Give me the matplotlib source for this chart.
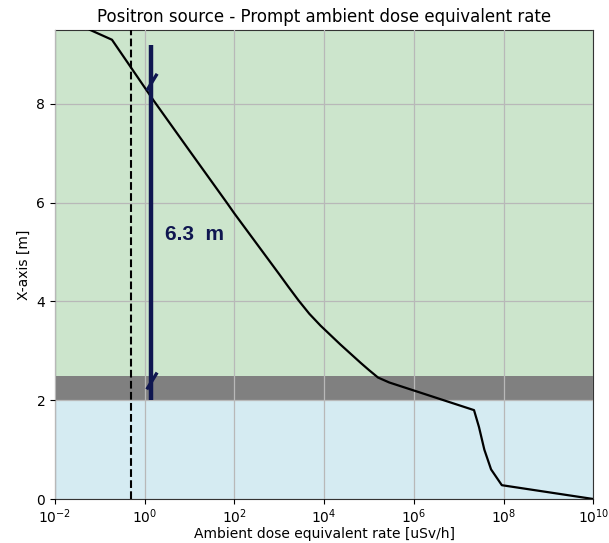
import numpy as np
import matplotlib
matplotlib.use("Agg")
import matplotlib.pyplot as plt

# ---- data ----
dose_rate = [10**-1.22, 10**-0.73, 10**0.19, 10**1.0, 10**1.83, 10**2.0, 10**3.0,
             10**3.2, 10**3.43, 10**3.67, 10**3.92, 10**4.36, 10**4.81, 10**5.0,
             10**5.2, 10**5.45, 10**7.34, 10**7.45, 10**7.57, 10**7.72, 10**7.96,
             10**10.0]
position = [9.5, 9.30, 8.08, 7.05, 6.0, 5.78, 4.55,
            4.30, 4.02, 3.75, 3.51, 3.13, 2.76, 2.61,
            2.46, 2.36, 1.80, 1.46, 1.0, 0.6, 0.28,
            0.0]

zone_bounds = [0.0, 2.0, 2.5, 9.5]          # blue / grey / green zones
zone_colors = ["lightblue", "grey", "green"]
zone_alphas = [0.5, 1.0, 0.2]

limit_value = 0.5                           # dashed reference line
dim_x = 1.4                                 # dimension line position
dim_range = [2.0, 9.2]
dim_marks = [8.43, 2.38]
dim_label = "6.3  m"
label_pos = (2.85, 5.35)

x_ticks = [1e-2, 1e0, 1e2, 1e4, 1e6, 1e8, 1e10]
y_ticks = [0, 2, 4, 6, 8]

# ---- figure ----
fig = plt.figure(figsize=(6.09, 5.43), dpi=100)
ax = fig.add_axes([0.0903, 0.081, 0.884, 0.864])

for lo, hi, c, a in zip(zone_bounds[:-1], zone_bounds[1:], zone_colors, zone_alphas):
    ax.axhspan(lo, hi, color=c, alpha=a, lw=0, zorder=0)

ax.plot(dose_rate, position, color="black", lw=1.6, zorder=3)
ax.axvline(limit_value, color="black", ls="--", lw=1.5, zorder=3)

navy = "#0f1650"
ax.plot([dim_x, dim_x], dim_range, color=navy, lw=3.2, zorder=4, solid_capstyle="butt")
for ym in dim_marks:
    ax.plot([dim_x * 10**0.13, dim_x * 10**-0.1], [ym + 0.18, ym - 0.16],
            color=navy, lw=2.4, zorder=4, solid_capstyle="butt")
ax.text(label_pos[0], label_pos[1], dim_label, color=navy, fontsize=15,
        fontweight="bold", family="Liberation Sans", ha="left", va="center", zorder=5)

ax.set_xscale("log")
ax.set_xlim(1e-2, 1e10)
ax.set_ylim(0, 9.5)
ax.set_xticks(x_ticks)
ax.set_yticks(y_ticks)
ax.minorticks_off()
ax.tick_params(axis="x", pad=2.5)
ax.grid(True, color="#b8b8b8", lw=0.9)
ax.set_axisbelow(False)
for s in ax.spines.values():
    s.set_color("#333333")

ax.set_title("Positron source - Prompt ambient dose equivalent rate", fontsize=12)
ax.set_xlabel("Ambient dose equivalent rate [uSv/h]", fontsize=10, labelpad=1)
ax.set_ylabel("X-axis [m]", fontsize=10)

fig.savefig("out.png", dpi=100)
